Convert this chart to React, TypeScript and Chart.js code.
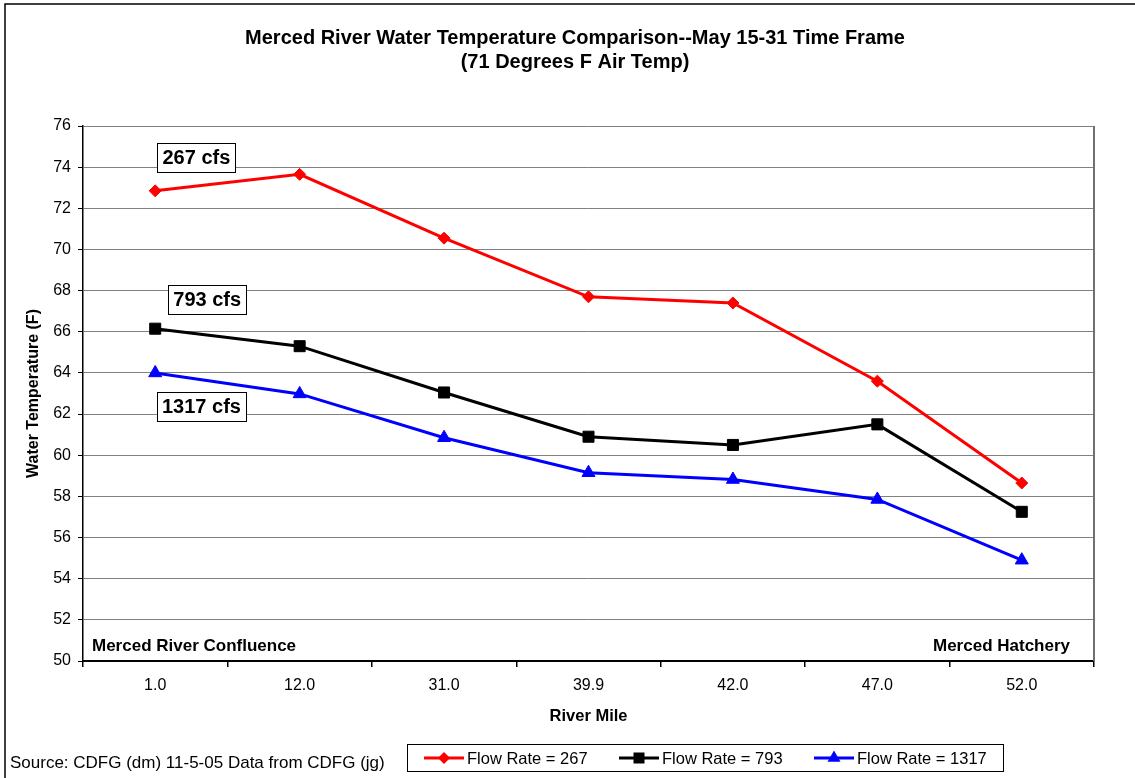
import React, { useEffect, useRef } from 'react';
import { Chart, registerables } from 'chart.js';

Chart.register(...registerables);

const riverMiles = ['1.0', '12.0', '31.0', '39.9', '42.0', '47.0', '52.0'];
const flow267 = [72.85, 73.65, 70.55, 67.7, 67.4, 63.6, 58.65];
const flow793 = [66.15, 65.3, 63.05, 60.9, 60.5, 61.5, 57.25];
const flow1317 = [64.0, 62.98, 60.85, 59.15, 58.82, 57.85, 54.9];

const yMin = 50;
const yMax = 76;
const yStep = 2;

const titleLines = [
  'Merced River Water Temperature Comparison--May 15-31 Time Frame',
  '(71 Degrees F Air Temp)',
];
const yAxisTitle = 'Water Temperature (F)';
const xAxisTitle = 'River Mile';
const leftCornerLabel = 'Merced River Confluence';
const rightCornerLabel = 'Merced Hatchery';
const sourceNote = 'Source: CDFG (dm) 11-5-05 Data from CDFG (jg)';

const seriesLabels = ['Flow Rate = 267', 'Flow Rate = 793', 'Flow Rate = 1317'];
const seriesColors = ['#FF0000', '#000000', '#0000FF'];
const seriesMarkers = ['rectRot', 'rect', 'triangle'];
const seriesRadius = [6, 7.8, 7.5];

const annotationTexts = ['267 cfs', '793 cfs', '1317 cfs'];
const annotationIndex = [0.285, 0.36, 0.32];
const annotationValue = [74.45, 67.55, 62.37];

const FONT = '"Liberation Sans", Arial, Helvetica, sans-serif';

function drawMarker(ctx: CanvasRenderingContext2D, kind: string, x: number, y: number, color: string) {
  ctx.save();
  ctx.fillStyle = color;
  ctx.beginPath();
  if (kind === 'rectRot') {
    const r = 6;
    ctx.moveTo(x, y - r);
    ctx.lineTo(x + r, y);
    ctx.lineTo(x, y + r);
    ctx.lineTo(x - r, y);
  } else if (kind === 'rect') {
    const s = 5.5;
    ctx.rect(x - s, y - s, 2 * s, 2 * s);
  } else {
    const r = 7.5;
    ctx.moveTo(x, y - r);
    ctx.lineTo(x + r * 0.866, y + r * 0.5);
    ctx.lineTo(x - r * 0.866, y + r * 0.5);
  }
  ctx.closePath();
  ctx.fill();
  ctx.restore();
}

const decorPlugin = {
  id: 'decor',
  afterDraw(chart: any) {
    const ctx: CanvasRenderingContext2D = chart.ctx;
    const area = chart.chartArea;
    const xs = chart.scales.x;
    const ys = chart.scales.y;
    ctx.save();

    // outer frame (top and left edges visible)
    ctx.strokeStyle = '#000';
    ctx.lineWidth = 1.5;
    ctx.beginPath();
    ctx.moveTo(5, chart.height);
    ctx.lineTo(5, 4);
    ctx.lineTo(chart.width, 4);
    ctx.stroke();

    // plot area right border
    ctx.strokeStyle = '#707070';
    ctx.lineWidth = 2;
    ctx.beginPath();
    ctx.moveTo(area.right, area.top);
    ctx.lineTo(area.right, area.bottom);
    ctx.stroke();

    ctx.fillStyle = '#000';
    // title
    ctx.font = `bold 20px ${FONT}`;
    ctx.textAlign = 'center';
    ctx.textBaseline = 'middle';
    ctx.fillText(titleLines[0], 575, 38);
    ctx.fillText(titleLines[1], 575, 62);

    // y axis title
    ctx.save();
    ctx.translate(34, (area.top + area.bottom) / 2);
    ctx.rotate(-Math.PI / 2);
    ctx.font = `bold 16px ${FONT}`;
    ctx.fillText(yAxisTitle, 0, 0);
    ctx.restore();

    // x axis title
    ctx.font = `bold 16.5px ${FONT}`;
    ctx.fillText(xAxisTitle, (area.left + area.right) / 2, 716);

    // corner labels
    ctx.font = `bold 17px ${FONT}`;
    ctx.textAlign = 'left';
    ctx.textBaseline = 'alphabetic';
    ctx.fillText(leftCornerLabel, area.left + 9, area.bottom - 10);
    ctx.textAlign = 'right';
    ctx.fillText(rightCornerLabel, area.right - 24, area.bottom - 10);

    // annotation boxes
    ctx.font = `bold 20px ${FONT}`;
    ctx.textAlign = 'center';
    ctx.textBaseline = 'middle';
    for (let i = 0; i < annotationTexts.length; i++) {
      const cx = xs.getPixelForValue(annotationIndex[i]);
      const cy = ys.getPixelForValue(annotationValue[i]);
      const w = Math.round(ctx.measureText(annotationTexts[i]).width + 10);
      const h = 29;
      const bx = Math.round(cx - w / 2) + 0.5;
      const by = Math.round(cy - h / 2) + 0.5;
      ctx.fillStyle = '#fff';
      ctx.fillRect(bx, by, w, h);
      ctx.strokeStyle = '#000';
      ctx.lineWidth = 1;
      ctx.strokeRect(bx, by, w, h);
      ctx.fillStyle = '#000';
      ctx.fillText(annotationTexts[i], cx, cy + 1);
    }

    // source note
    ctx.font = `17px ${FONT}`;
    ctx.textAlign = 'left';
    ctx.textBaseline = 'middle';
    ctx.fillText(sourceNote, 10, 763);

    // legend
    ctx.strokeStyle = '#000';
    ctx.lineWidth = 1;
    ctx.strokeRect(407.5, 744.5, 596, 27);
    for (let i = 0; i < seriesLabels.length; i++) {
      const x0 = 424 + i * 195;
      const ly = 758;
      ctx.strokeStyle = seriesColors[i];
      ctx.lineWidth = 3;
      ctx.beginPath();
      ctx.moveTo(x0, ly);
      ctx.lineTo(x0 + 40, ly);
      ctx.stroke();
      drawMarker(ctx, seriesMarkers[i], x0 + 20, ly, seriesColors[i]);
      ctx.fillStyle = '#000';
      ctx.font = `16.5px ${FONT}`;
      ctx.textAlign = 'left';
      ctx.fillText(seriesLabels[i], x0 + 43, ly + 1);
    }
    ctx.restore();
  },
};

export default function App() {
  const canvasRef = useRef<HTMLCanvasElement | null>(null);

  useEffect(() => {
    if (!canvasRef.current) return;
    const series = [flow267, flow793, flow1317];
    const chart = new Chart(canvasRef.current, {
      type: 'line',
      data: {
        labels: riverMiles,
        datasets: series.map((d, i) => ({
          label: seriesLabels[i],
          data: d,
          borderColor: seriesColors[i],
          backgroundColor: seriesColors[i],
          borderWidth: 3,
          pointStyle: seriesMarkers[i] as any,
          pointRadius: seriesRadius[i],
          pointBorderWidth: 1,
          pointBackgroundColor: seriesColors[i],
          pointBorderColor: seriesColors[i],
          tension: 0,
          fill: false,
        })),
      },
      options: {
        responsive: false,
        animation: false,
        devicePixelRatio: 1,
        layout: { padding: { left: 0, top: 126, right: 41, bottom: 47 } },
        plugins: {
          legend: { display: false },
          title: { display: false },
          tooltip: { enabled: false },
        },
        scales: {
          x: {
            type: 'category',
            offset: true,
            grid: {
              offset: true,
              drawOnChartArea: false,
              drawTicks: true,
              tickLength: 6,
              color: '#000',
              tickColor: '#000',
              lineWidth: 1.5,
            },
            border: { display: true, color: '#000', width: 2 },
            ticks: {
              color: '#000',
              font: { family: FONT, size: 16 },
              padding: 9,
              maxRotation: 0,
              autoSkip: false,
            },
            afterFit(scale: any) {
              scale.height = 70;
            },
          },
          y: {
            min: yMin,
            max: yMax,
            grid: {
              color: '#808080',
              tickColor: '#000',
              tickLength: 5,
              lineWidth: 1,
            },
            border: { display: true, color: '#000', width: 1.5 },
            ticks: {
              stepSize: yStep,
              color: '#000',
              font: { family: FONT, size: 16 },
              padding: 7,
            },
            afterFit(scale: any) {
              scale.width = 83;
            },
          },
        },
      },
      plugins: [decorPlugin],
    });
    return () => chart.destroy();
  }, []);

  return (
    <div style={{ position: 'absolute', left: 0, top: 0, width: 1135, height: 778, background: '#fff' }}>
      <canvas ref={canvasRef} width={1135} height={778} style={{ width: 1135, height: 778, display: 'block' }} />
    </div>
  );
}
